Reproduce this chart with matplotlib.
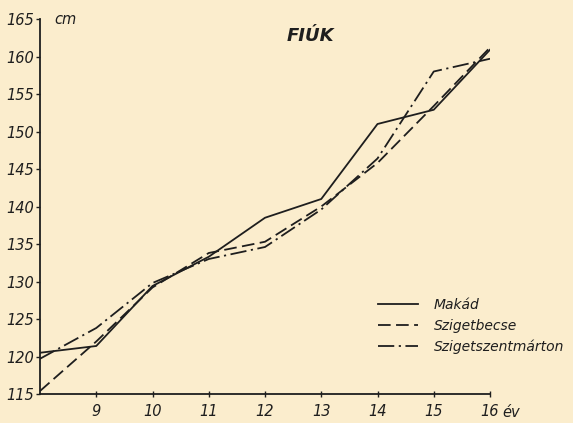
import matplotlib.pyplot as plt
import numpy as np

# growth of boys (FIÚK), mean height in cm by age (év)
ages = [8, 9, 10, 11, 12, 13, 14, 15, 16]
makad = [120.5, 121.4, 129.4, 133.3, 138.5, 141.0, 151.0, 152.9, 160.9]
szigetbecse = [115.4, 122.0, 129.2, 133.8, 135.3, 140.0, 145.8, 153.4, 161.2]
szigetszentmarton = [119.7, 123.8, 129.8, 133.0, 134.6, 139.6, 146.4, 158.0, 159.7]

x_ticks = [9, 10, 11, 12, 13, 14, 15, 16]
y_ticks = [115, 120, 125, 130, 135, 140, 145, 150, 155, 160, 165]

paper = '#fbedcd'
ink = '#1e1e1e'

fig = plt.figure(figsize=(5.73, 4.23), dpi=100, facecolor=paper)
ax = fig.add_axes([40 / 573, 1 - 394 / 423, 450 / 573, 375 / 423])
ax.set_facecolor(paper)

ax.plot(ages, makad, color=ink, lw=1.3, ls='-', label='Makád')
ax.plot(ages, szigetbecse, color=ink, lw=1.3, ls=(0, (7, 3)), label='Szigetbecse')
ax.plot(ages, szigetszentmarton, color=ink, lw=1.3, ls=(0, (9, 2.5, 1.2, 2.5)),
        label='Szigetszentmárton')

ax.set_xlim(8, 16)
ax.set_ylim(115, 165)
ax.spines['top'].set_visible(False)
ax.spines['right'].set_visible(False)
for s in ('left', 'bottom'):
    ax.spines[s].set_color(ink)
    ax.spines[s].set_linewidth(1.3)

ax.set_xticks(x_ticks)
ax.set_yticks(y_ticks)
ax.tick_params(axis='x', direction='inout', length=5, width=1, color=ink, pad=5,
               labelsize=10.5, labelcolor=ink)
ax.tick_params(axis='y', direction='out', length=3, width=1, color=ink, pad=1,
               labelsize=10.5, labelcolor=ink)
for lab in ax.get_xticklabels() + ax.get_yticklabels():
    lab.set_fontstyle('italic')

ax.annotate('cm', xy=(0, 1), xycoords='axes fraction', xytext=(10, 0),
            textcoords='offset points', va='center', ha='left',
            fontsize=10.5, fontstyle='italic', color=ink)
ax.annotate('év', xy=(1, 0), xycoords='axes fraction', xytext=(9, -13),
            textcoords='offset points', va='center', ha='left',
            fontsize=10.5, fontstyle='italic', color=ink)

fig.text(310 / 573, 1 - 36 / 423, 'FIÚK', ha='center', va='center',
         fontsize=13, fontweight='bold', fontstyle='italic', color=ink)

leg = ax.legend(loc='upper left', bbox_to_anchor=(378 / 573, 1 - 298 / 423),
                bbox_transform=fig.transFigure, frameon=False, fontsize=10,
                handlelength=2.9, handletextpad=1.1, labelspacing=0.48,
                borderpad=0, borderaxespad=0)
for t in leg.get_texts():
    t.set_fontstyle('italic')
    t.set_color(ink)

fig.savefig('out.png', dpi=100, facecolor=paper)
